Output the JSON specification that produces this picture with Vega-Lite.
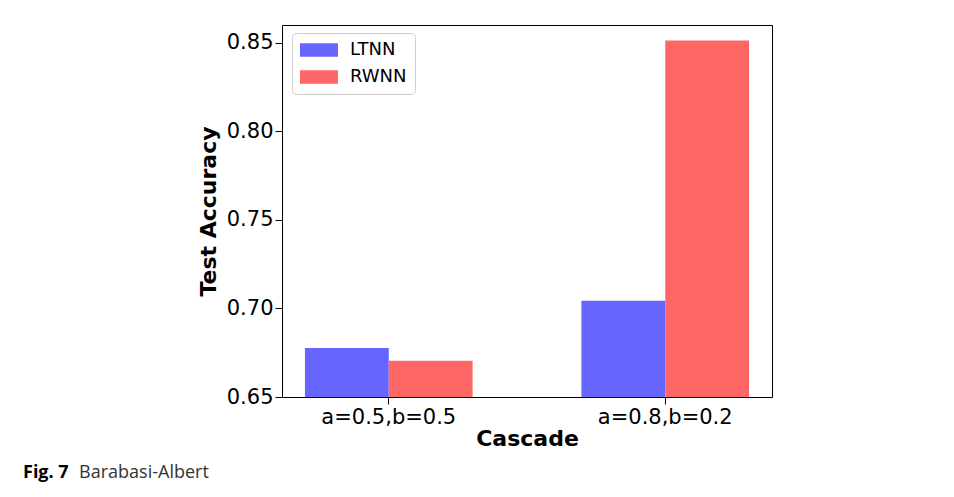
{
  "$schema": "https://vega.github.io/schema/vega-lite/v6.json",
  "width": 490,
  "height": 372,
  "autosize": "none",
  "padding": {"left": 282, "top": 25, "right": 182, "bottom": 100},
  "background": "white",
  "title": {
    "text": "Fig. 7",
    "subtitle": "\u200b\u00a0\u00a0\u00a0\u00a0\u00a0\u00a0\u00a0\u00a0\u00a0\u00a0\u00a0\u00a0Barabasi-Albert",
    "orient": "bottom",
    "anchor": "start",
    "frame": "group",
    "dx": -259,
    "offset": 15,
    "font": "Open Sans",
    "fontSize": 18,
    "fontWeight": "bold",
    "color": "#000000",
    "subtitleFont": "Open Sans",
    "subtitleFontSize": 18,
    "subtitleFontWeight": "normal",
    "subtitleColor": "#333333",
    "subtitlePadding": -18
  },
  "data": {
    "values": [
      {"Cascade": "a=0.5,b=0.5", "Method": "LTNN", "Accuracy": 0.6777},
      {"Cascade": "a=0.5,b=0.5", "Method": "RWNN", "Accuracy": 0.6704},
      {"Cascade": "a=0.8,b=0.2", "Method": "LTNN", "Accuracy": 0.7044},
      {"Cascade": "a=0.8,b=0.2", "Method": "RWNN", "Accuracy": 0.8513}
    ]
  },
  "mark": {"type": "bar", "clip": true},
  "encoding": {
    "x": {
      "field": "Cascade",
      "type": "nominal",
      "sort": ["a=0.5,b=0.5", "a=0.8,b=0.2"],
      "scale": {"paddingInner": 0.3935, "paddingOuter": 0.083},
      "axis": {
        "title": "Cascade",
        "labelAngle": 0,
        "labelFont": "DejaVu Sans",
        "labelFontSize": 21,
        "labelColor": "#000000",
        "labelPadding": 2,
        "tickSize": 7,
        "tickColor": "#000000",
        "tickWidth": 1,
        "domain": false,
        "titleFont": "DejaVu Sans",
        "titleFontSize": 22,
        "titleFontWeight": "bold",
        "titleColor": "#000000",
        "titlePadding": 1
      }
    },
    "xOffset": {
      "field": "Method",
      "type": "nominal",
      "scale": {"paddingInner": 0, "paddingOuter": 0}
    },
    "y": {
      "field": "Accuracy",
      "type": "quantitative",
      "scale": {"domain": [0.65, 0.86], "zero": false, "nice": false},
      "axis": {
        "title": "Test Accuracy",
        "values": [0.65, 0.7, 0.75, 0.8, 0.85],
        "format": ".2f",
        "grid": false,
        "domain": false,
        "labelFont": "DejaVu Sans",
        "labelFontSize": 21,
        "labelColor": "#000000",
        "labelPadding": 2,
        "tickSize": 7,
        "tickColor": "#000000",
        "tickWidth": 1,
        "titleFont": "DejaVu Sans",
        "titleFontSize": 22,
        "titleFontWeight": "bold",
        "titleColor": "#000000",
        "titlePadding": 6
      }
    },
    "color": {
      "field": "Method",
      "type": "nominal",
      "scale": {"domain": ["LTNN", "RWNN"], "range": ["#6666ff", "#ff6666"]},
      "legend": {
        "title": null,
        "orient": "none",
        "legendX": 10,
        "legendY": 8,
        "symbolType": "M-1,-0.74H3.22V0.74H-1Z",
        "symbolSize": 324,
        "symbolStrokeWidth": 0,
        "symbolOpacity": 1,
        "labelFont": "DejaVu Sans",
        "labelFontSize": 18,
        "labelColor": "#000000",
        "labelOffset": 32,
        "padding": 8,
        "rowPadding": 9,
        "strokeColor": "#cccccc",
        "fillColor": "#ffffff",
        "cornerRadius": 4
      }
    }
  },
  "config": {
    "view": {"stroke": "#000000", "strokeWidth": 1}
  }
}
